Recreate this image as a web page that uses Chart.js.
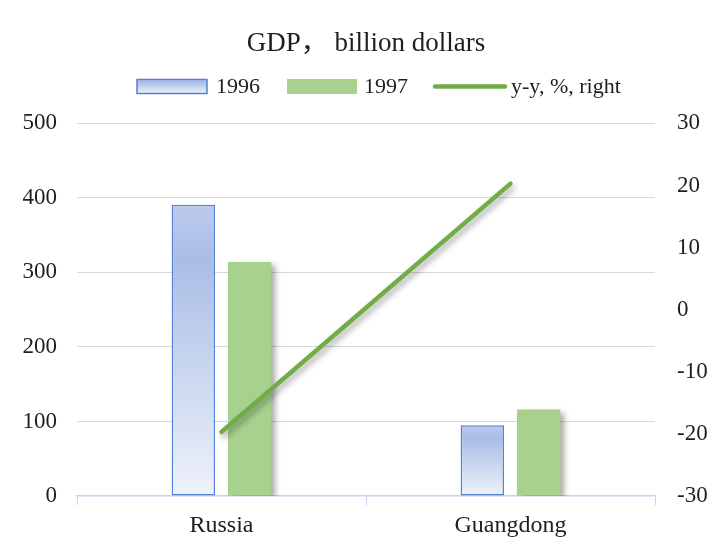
<!DOCTYPE html>
<html>
<head>
<meta charset="utf-8">
<script src="https://cdn.jsdelivr.net/npm/chart.js@4.4.1/dist/chart.umd.min.js"></script>
<style>
  html, body { margin: 0; padding: 0; background: #fff; }
</style>
</head>
<body>
<canvas id="gdpChart" width="712" height="548"></canvas>
<script>
// GDP chart: bars on the left axis, y-y growth line on the right axis

const regions = ['Russia', 'Guangdong'];
const gdp1996 = [391, 95];
const gdp1997 = [314, 116];
const growthYoY = [-19.7, 20.3];
const leftTicks = [0, 100, 200, 300, 400, 500];
const rightTicks = [-30, -20, -10, 0, 10, 20, 30];

const SERIF = '"Liberation Serif", "Times New Roman", "Noto Sans CJK SC", serif';
const TEXT_COLOR = '#1e1e1e';
const GREEN_BAR = '#a9d18e';
const GREEN_LINE = '#70ad47';
const BLUE_EDGE = '#5581d8';

function blueFill(ctx, top, bottom) {
  const g = ctx.createLinearGradient(0, top, 0, bottom);
  g.addColorStop(0, '#bccbeb');
  g.addColorStop(0.18, '#a8bde6');
  g.addColorStop(1, '#eef2fa');
  return g;
}

// per-bar gradient, like the spreadsheet fill
function barGradient(context) {
  const chart = context.chart;
  const y = chart.scales.y;
  if (!chart.chartArea || context.type !== 'data' || !y) return '#c5d3ee';
  const top = y.getPixelForValue(context.raw);
  const base = y.getPixelForValue(0);
  return blueFill(chart.ctx, top, base);
}

// drop shadow for datasets that ask for it
const shadowPlugin = {
  id: 'shadow',
  beforeDatasetDraw(chart, args) {
    const ds = chart.data.datasets[args.index];
    if (!ds.shadow) return;
    const ctx = chart.ctx;
    ctx.save();
    ctx.shadowColor = 'rgba(0,0,0,0.35)';
    ctx.shadowBlur = 6;
    ctx.shadowOffsetX = ds.shadow[0];
    ctx.shadowOffsetY = ds.shadow[1];
  },
  afterDatasetDraw(chart, args) {
    if (chart.data.datasets[args.index].shadow) chart.ctx.restore();
  }
};

// legend drawn by hand so the spacing matches the sheet
const legendSlots = [
  { x: 137, w: 70, gap: 9 },
  { x: 287, w: 70, gap: 7 },
  { x: 433, w: 74, gap: 4 }
];

const legendPlugin = {
  id: 'sheetLegend',
  afterDraw(chart) {
    const ctx = chart.ctx;
    const cy = 86.5;
    ctx.save();
    ctx.font = '22px ' + SERIF;
    ctx.textBaseline = 'middle';
    chart.data.datasets.forEach((ds, i) => {
      const slot = legendSlots[i];
      if (ds.type === 'line') {
        ctx.strokeStyle = ds.borderColor;
        ctx.lineWidth = 4.5;
        ctx.lineCap = 'round';
        ctx.beginPath();
        ctx.moveTo(slot.x + 2, cy);
        ctx.lineTo(slot.x + slot.w - 2, cy);
        ctx.stroke();
      } else if (ds.borderWidth) {
        ctx.fillStyle = blueFill(ctx, cy - 7, cy + 7);
        ctx.fillRect(slot.x, cy - 7, slot.w, 14);
        ctx.strokeStyle = ds.borderColor;
        ctx.lineWidth = 1.5;
        ctx.strokeRect(slot.x, cy - 7, slot.w, 14);
      } else {
        ctx.fillStyle = ds.backgroundColor;
        ctx.fillRect(slot.x, cy - 7.5, slot.w, 15);
      }
      ctx.fillStyle = TEXT_COLOR;
      ctx.fillText(ds.label, slot.x + slot.w + slot.gap, cy + 1);
    });
    ctx.restore();
  }
};

const ctx = document.getElementById('gdpChart').getContext('2d');
const gdpChart = new Chart(ctx, {
  type: 'bar',
  data: {
    labels: regions,
    datasets: [
      {
        label: '1996',
        data: gdp1996,
        backgroundColor: barGradient,
        borderColor: BLUE_EDGE,
        borderWidth: 1.5,
        borderSkipped: false,
        yAxisID: 'y',
        order: 1
      },
      {
        label: '1997',
        data: gdp1997,
        backgroundColor: GREEN_BAR,
        borderWidth: 0,
        yAxisID: 'y',
        order: 1,
        shadow: [4, 3]
      },
      {
        type: 'line',
        label: 'y-y, %, right',
        data: growthYoY,
        borderColor: GREEN_LINE,
        borderWidth: 4.5,
        borderCapStyle: 'round',
        pointRadius: 0,
        tension: 0,
        fill: false,
        yAxisID: 'y1',
        order: 0,
        shadow: [2, 4]
      }
    ]
  },
  options: {
    responsive: false,
    animation: false,
    layout: {
      padding: { left: 0, right: 0, top: 0, bottom: 0 }
    },
    datasets: {
      bar: {
        categoryPercentage: 0.39,
        barPercentage: 0.77
      }
    },
    plugins: {
      legend: { display: false },
      tooltip: { enabled: false },
      title: {
        display: true,
        fullSize: false,
        text: 'GDP， billion dollars',
        color: TEXT_COLOR,
        font: { family: SERIF, size: 27, weight: 'normal' },
        padding: { top: 28, bottom: 63 }
      }
    },
    scales: {
      x: {
        grid: {
          offset: true,
          drawOnChartArea: false,
          drawTicks: true,
          tickLength: 9,
          color: '#c6d3f0'
        },
        border: { display: true, color: '#c6d3f0', width: 1.5 },
        ticks: {
          color: TEXT_COLOR,
          font: { family: SERIF, size: 24 },
          padding: 6
        },
        afterFit(scale) { scale.height = 52; }
      },
      y: {
        position: 'left',
        min: leftTicks[0],
        max: leftTicks[leftTicks.length - 1],
        ticks: {
          stepSize: leftTicks[1] - leftTicks[0],
          color: TEXT_COLOR,
          font: { family: SERIF, size: 23 },
          padding: 20
        },
        grid: {
          drawTicks: false,
          color: (c) => (c.tick && c.tick.value === 0 ? 'rgba(0,0,0,0)' : '#d9d9d9')
        },
        border: { display: false },
        afterFit(scale) { scale.width = 77; }
      },
      y1: {
        position: 'right',
        min: rightTicks[0],
        max: rightTicks[rightTicks.length - 1],
        ticks: {
          stepSize: rightTicks[1] - rightTicks[0],
          color: TEXT_COLOR,
          font: { family: SERIF, size: 23 },
          padding: 22
        },
        grid: { drawOnChartArea: false, drawTicks: false },
        border: { display: false },
        afterFit(scale) { scale.width = 57; }
      }
    }
  },
  plugins: [shadowPlugin, legendPlugin]
});
</script>
</body>
</html>
